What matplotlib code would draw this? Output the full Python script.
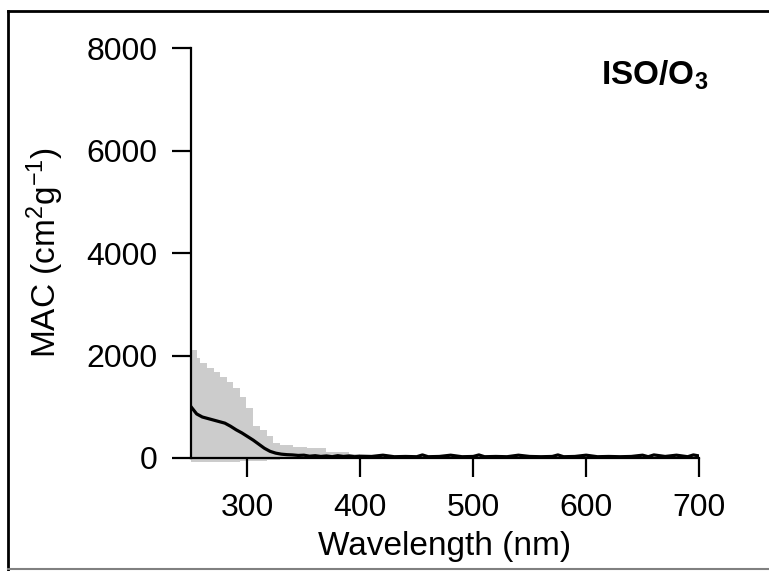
import matplotlib.pyplot as plt
from matplotlib.lines import Line2D

# MAC spectrum (mean line)
wl = [250, 255, 260, 265, 270, 275, 280, 285, 290, 295, 300, 305, 310, 315,
      320, 325, 330, 335, 340, 345, 350, 355, 360, 365, 370, 375, 380, 385,
      390, 395, 400, 410, 420, 430, 440, 450, 455, 460, 470, 480, 490, 500,
      505, 510, 520, 530, 540, 550, 560, 570, 575, 580, 590, 600, 610, 620,
      630, 640, 650, 655, 660, 670, 680, 690, 695, 700]
mac = [1000, 860, 800, 770, 740, 710, 680, 620, 550, 490, 420, 350, 270, 190,
       130, 95, 75, 65, 60, 50, 55, 35, 45, 30, 40, 25, 45, 30,
       40, 25, 35, 30, 55, 25, 30, 25, 60, 25, 30, 55, 25, 30,
       60, 25, 30, 25, 55, 30, 25, 30, 60, 25, 30, 55, 25, 30,
       25, 30, 55, 25, 60, 30, 55, 25, 60, 40]

# uncertainty band (upper / lower), step-like
wl_band = [250, 255, 258, 264, 270, 276, 282, 287, 293, 299, 305, 311, 317,
           323, 329, 340, 353, 370, 390, 400]
band_hi = [2100, 1950, 1850, 1750, 1680, 1590, 1490, 1360, 1200, 980, 620,
           550, 420, 290, 250, 220, 190, 120, 80, 30]
band_lo = [-80, -80, -80, -80, -80, -80, -80, -70, -60, -60, -50, -50, -40,
           -30, -20, -10, 0, 0, 0, 0]

plt.rcParams['font.family'] = ['Liberation Sans', 'DejaVu Sans']
plt.rcParams['mathtext.default'] = 'regular'

fig = plt.figure(figsize=(7.69, 5.71), dpi=100)
ax = fig.add_axes([0.2484, 0.1979, 0.6606, 0.718])

ax.fill_between(wl_band, band_lo, band_hi, step='post', color='#cccccc',
                linewidth=0, clip_on=False)
ax.plot(wl, mac, color='black', linewidth=2.3)

ax.set_xlim(250, 700)
ax.set_ylim(0, 8000)
ax.set_xticks([300, 400, 500, 600, 700])
ax.set_yticks([0, 2000, 4000, 6000, 8000])
for s in ['top', 'right']:
    ax.spines[s].set_visible(False)
for s in ['left', 'bottom']:
    ax.spines[s].set_linewidth(1.6)
ax.tick_params(direction='out', length=14, width=1.6, labelsize=23)
ax.tick_params(axis='x', pad=11)
ax.tick_params(axis='y', pad=10)
ax.set_xlabel('Wavelength (nm)', fontsize=24, labelpad=6)
ax.set_ylabel('MAC (cm$^2$g$^{-1}$)', fontsize=24, labelpad=15)
ax.text(1.018, 0.934, 'ISO/O$_3$', transform=ax.transAxes, ha='right',
        va='center', fontsize=24, fontweight='bold')

# page frame
fig.add_artist(Line2D([8/769, 8/769], [1 - 11/571, 0], color='black',
                      linewidth=2, transform=fig.transFigure))
fig.add_artist(Line2D([8/769, 1], [1 - 11/571, 1 - 11/571], color='black',
                      linewidth=2, transform=fig.transFigure))
fig.add_artist(Line2D([8/769, 1], [2/571, 2/571], color='#808080',
                      linewidth=1.5, transform=fig.transFigure))

fig.savefig('out.png', dpi=100)
